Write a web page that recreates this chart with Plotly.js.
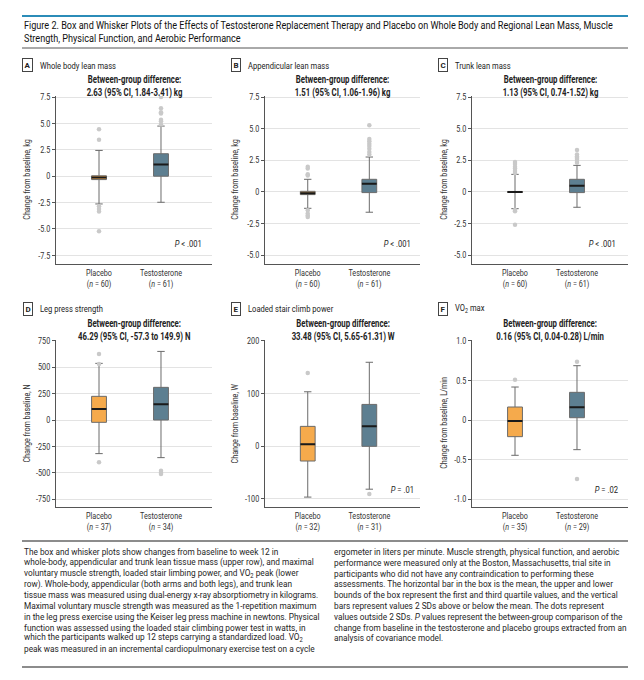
<!DOCTYPE html>
<html>
<head>
<meta charset="utf-8">
<script src="https://cdn.plot.ly/plotly-3.0.1.min.js"></script>
<style>html,body{margin:0;padding:0;background:#fff;}#chart{width:644px;height:680px;}</style>
</head>
<body>
<div id="chart"></div>
<script>
// ---------------- DATA ----------------
const groups = ["Placebo", "Testosterone"];

// Panel A: whole body lean mass (kg)  [placebo, testosterone]
const A_n = [60, 61];
const A_lower = [-2.63, -2.47];
const A_q1 = [-0.32, 0.0];
const A_mean = [-0.12, 1.12];
const A_q3 = [0.04, 2.13];
const A_upper = [2.44, 4.75];
const A_outPlacebo = [4.45, 3.45, -2.85, -3.1, -3.35, -5.22];
const A_outTesto = [7.5, 6.45, 6.05, 5.95, 5.35, 5.2, 4.9];

// Panel B: appendicular lean mass (kg)
const B_n = [60, 61];
const B_lower = [-1.29, -1.6];
const B_q1 = [-0.21, -0.05];
const B_mean = [-0.1, 0.65];
const B_q3 = [0.05, 1.0];
const B_upper = [1.0, 2.76];
const B_outPlacebo = [2.0, 1.85, 1.4, 1.3, -1.45, -1.7, -1.85, -1.97];
const B_outTesto = [5.26, 4.18, 4.0, 3.8, 3.63, 3.42, 3.16, 2.95];

// Panel C: trunk lean mass (kg)
const C_n = [60, 61];
const C_lower = [-1.32, -1.21];
const C_q1 = [-0.04, -0.05];
const C_mean = [0.0, 0.5];
const C_q3 = [0.04, 1.0];
const C_upper = [1.39, 2.1];
const C_outPlacebo = [2.37, 2.2, 2.0, 1.85, 1.66, 1.5, -1.42, -1.53, -2.58];
const C_outTesto = [3.32, 2.95, 2.8, 2.7, 2.6, 2.45, 2.3];

// Panel D: leg press strength (N)
const D_n = [37, 34];
const D_lower = [-318, -356];
const D_q1 = [-22, 0];
const D_mean = [104, 148];
const D_q3 = [224, 309];
const D_upper = [536, 649];
const D_outPlacebo = [624, 530, -400];
const D_outTesto = [-479, -498, -510];

// Panel E: loaded stair climb power (W)
const E_n = [32, 31];
const E_lower = [-97, -82];
const E_q1 = [-28.5, -0.6];
const E_mean = [3.2, 37.3];
const E_q3 = [37.3, 79];
const E_upper = [103, 159];
const E_outPlacebo = [138.6];
const E_outTesto = [-91];

// Panel F: VO2 max (L/min)
const F_n = [35, 29];
const F_lower = [-0.445, -0.374];
const F_q1 = [-0.21, 0.029];
const F_mean = [-0.013, 0.16];
const F_q3 = [0.164, 0.349];
const F_upper = [0.416, 0.685];
const F_outPlacebo = [0.508];
const F_outTesto = [0.735, -0.744];

// tick labels
const ticksA = [7.5, 5.0, 2.5, 0, -2.5, -5.0, -7.5];
const ticksA_text = ["7.5", "5.0", "2.5", "0", "-2.5", "-5.0", "-7.5"];
const ticksBC = [7.5, 5.0, 2.5, 0, -2.5, -5.0];
const ticksBC_text = ["7.5", "5.0", "2.5", "0", "-2.5", "-5.0"];
const ticksD = [750, 500, 250, 0, -250, -500, -750];
const ticksD_text = ["750", "500", "250", "0", "-250", "-500", "-750"];
const ticksE = [200, 100, 0, -100];
const ticksE_text = ["200", "100", "0", "-100"];
const ticksF = [1.0, 0.5, 0, -0.5, -1.0];
const ticksF_text = ["1.0", "0.5", "0", "-0.5", "-1.0"];

const panelLetters = ["A", "B", "C", "D", "E", "F"];
const panelTitles = ["Whole body lean mass", "Appendicular lean mass", "Trunk lean mass",
                     "Leg press strength", "Loaded stair climb power", "VO<sub>2</sub> max"];
const diffTexts = [
  "Between-group difference:<br>2.63 (95% CI, 1.84-3.41) kg",
  "Between-group difference:<br>1.51 (95% CI, 1.06-1.96) kg",
  "Between-group difference:<br>1.13 (95% CI, 0.74-1.52) kg",
  "Between-group difference:<br>46.29 (95% CI, -57.3 to 149.9) N",
  "Between-group difference:<br>33.48 (95% CI, 5.65-61.31) W",
  "Between-group difference:<br>0.16 (95% CI, 0.04-0.28) L/min"
];
const pTexts = ["<i>P</i> < .001", "<i>P</i> < .001", "<i>P</i> < .001", "", "<i>P</i> = .01", "<i>P</i> = .02"];
const yTitles = ["Change from baseline, kg", "Change from baseline, kg", "Change from baseline, kg",
                 "Change from baseline, N", "Change from baseline, W", "Change from baseline, L/min"];

const figTitleLines = [
  "Figure 2. Box and Whisker Plots of the Effects of Testosterone Replacement Therapy and Placebo on Whole Body and Regional Lean Mass, Muscle",
  "Strength, Physical Function, and Aerobic Performance"
];
const captionLeft = [
  "The box and whisker plots show changes from baseline to week 12 in",
  "whole-body, appendicular and trunk lean tissue mass (upper row), and maximal",
  "voluntary muscle strength, loaded stair limbing power, and VO<sub>2</sub> peak (lower",
  "row). Whole-body, appendicular (both arms and both legs), and trunk lean",
  "tissue mass was measured using dual-energy x-ray absorptiometry in kilograms.",
  "Maximal voluntary muscle strength was measured as the 1-repetition maximum",
  "in the leg press exercise using the Keiser leg press machine in newtons. Physical",
  "function was assessed using the loaded stair climbing power test in watts, in",
  "which the participants walked up 12 steps carrying a standardized load. VO<sub>2</sub>",
  "peak was measured in an incremental cardiopulmonary exercise test on a cycle"
];
const captionRight = [
  "ergometer in liters per minute. Muscle strength, physical function, and aerobic",
  "performance were measured only at the Boston, Massachusetts, trial site in",
  "participants who did not have any contraindication to performing these",
  "assessments. The horizontal bar in the box is the mean, the upper and lower",
  "bounds of the box represent the first and third quartile values, and the vertical",
  "bars represent values 2 SDs above or below the mean. The dots represent",
  "values outside 2 SDs. <i>P</i> values represent the between-group comparison of the",
  "change from baseline in the testosterone and placebo groups extracted from an",
  "analysis of covariance model."
];

// ---------------- STYLE / LAYOUT ----------------
const W = 644, H = 680;
const FONT = "Roboto, 'Liberation Sans', sans-serif";
const px = x => x / W;
const py = y => 1 - y / H;
const ORANGE = "#F5AA4C", BLUE = "#5D7F91", WHISK = "#6b6b6b", DOT = "#c9c9c9";
const S_CHART = 0.8; // horizontal condensing of chart texts

const panels = [
  {lo: A_lower, q1: A_q1, me: A_mean, q3: A_q3, hi: A_upper, op: A_outPlacebo, ot: A_outTesto, n: A_n, tv: ticksA, tt: ticksA_text, yr: [-8.32, 7.6]},
  {lo: B_lower, q1: B_q1, me: B_mean, q3: B_q3, hi: B_upper, op: B_outPlacebo, ot: B_outTesto, n: B_n, tv: ticksBC, tt: ticksBC_text, yr: [-5.69, 7.58]},
  {lo: C_lower, q1: C_q1, me: C_mean, q3: C_q3, hi: C_upper, op: C_outPlacebo, ot: C_outTesto, n: C_n, tv: ticksBC, tt: ticksBC_text, yr: [-5.69, 7.58]},
  {lo: D_lower, q1: D_q1, me: D_mean, q3: D_q3, hi: D_upper, op: D_outPlacebo, ot: D_outTesto, n: D_n, tv: ticksD, tt: ticksD_text, yr: [-823, 757]},
  {lo: E_lower, q1: E_q1, me: E_mean, q3: E_q3, hi: E_upper, op: E_outPlacebo, ot: E_outTesto, n: E_n, tv: ticksE, tt: ticksE_text, yr: [-115.8, 201.3]},
  {lo: F_lower, q1: F_q1, me: F_mean, q3: F_q3, hi: F_upper, op: F_outPlacebo, ot: F_outTesto, n: F_n, tv: ticksF, tt: ticksF_text, yr: [-1.097, 1.009]}
];

// pixel geometry
const colX = [[56, 212], [265, 420], [472, 628]];
const rowY = [[96, 264], [340, 507]];
const labelBoxX = [27.5, 235.5, 442.5];
const titleX = [38, 246, 453];
const yTitleX = [27, 235, 444];
const rowLabelY = [65, 309];
const pRight = [[204, 413, 618], [0, 416, 620]];
const pY = [243, 489];

const traces = [];
const annSqueeze = [];
const layout = {
  width: W, height: H,
  margin: {l: 0, r: 0, t: 0, b: 0},
  paper_bgcolor: "#fff", plot_bgcolor: "#fff",
  showlegend: false,
  boxmode: "overlay",
  font: {family: FONT, size: 9, color: "#333"},
  annotations: [], shapes: []
};
function addAnn(a, s) { layout.annotations.push(a); annSqueeze.push(s); }

panels.forEach((p, i) => {
  const r = Math.floor(i / 3), c = i % 3;
  const xa = "x" + (i + 1), ya = "y" + (i + 1);
  const xk = "xaxis" + (i === 0 ? "" : i + 1), yk = "yaxis" + (i === 0 ? "" : i + 1);
  layout[xk] = {
    domain: [px(colX[c][0]), px(colX[c][1])],
    anchor: ya, type: "category", range: [-0.694, 1.823],
    showline: true, linecolor: "#555", linewidth: 1, showgrid: false, zeroline: false,
    ticks: "", tickvals: groups,
    ticktext: groups.map((g, k) => g + "<br>(<i>n</i> = " + p.n[k] + ")"),
    tickfont: {family: FONT, size: 9, color: "#333"}, fixedrange: true
  };
  layout[yk] = {
    domain: [py(rowY[r][1]), py(rowY[r][0])],
    anchor: xa, range: p.yr,
    showline: true, linecolor: "#555", linewidth: 1,
    showgrid: true, gridcolor: "#e3e3e3", gridwidth: 1, zeroline: false,
    ticks: "outside", ticklen: 3, tickcolor: "#555",
    tickvals: p.tv, ticktext: p.tt,
    tickfont: {family: FONT, size: 9, color: "#333"}, fixedrange: true
  };
  const colors = [ORANGE, BLUE];
  groups.forEach((g, k) => {
    traces.push({
      type: "box", xaxis: xa, yaxis: ya, x: [g],
      q1: [p.q1[k]], median: [p.me[k]], q3: [p.q3[k]],
      lowerfence: [p.lo[k]], upperfence: [p.hi[k]],
      boxpoints: false, width: 0.24, whiskerwidth: 0.5,
      fillcolor: colors[k], line: {color: WHISK, width: 1}, hoverinfo: "skip"
    });
  });
  // mean bar (drawn as a flat box)
  traces.push({
    type: "box", xaxis: xa, yaxis: ya, x: groups,
    q1: p.me, median: p.me, q3: p.me, lowerfence: p.me, upperfence: p.me,
    boxpoints: false, width: 0.24, whiskerwidth: 0,
    fillcolor: "rgba(0,0,0,0)", line: {color: "#1a1a1a", width: 2}, hoverinfo: "skip"
  });
  // outlier dots
  traces.push({
    type: "scatter", mode: "markers", xaxis: xa, yaxis: ya,
    x: p.op.map(() => groups[0]).concat(p.ot.map(() => groups[1])),
    y: p.op.concat(p.ot),
    marker: {color: DOT, size: 4.5}, hoverinfo: "skip"
  });

  addAnn({
    xref: "paper", yref: "paper", x: px(labelBoxX[c]), y: py(rowLabelY[r]),
    xanchor: "center", yanchor: "middle", showarrow: false,
    text: "<b>" + panelLetters[i] + "</b>", font: {family: FONT, size: 8, color: "#222"},
    bordercolor: "#444", borderwidth: 1, borderpad: 1.5, bgcolor: "#fff"
  }, 1);
  addAnn({
    xref: "paper", yref: "paper", x: px(titleX[c]), y: py(rowLabelY[r]),
    xanchor: "left", align: "left", yanchor: "middle", showarrow: false,
    text: panelTitles[i], font: {family: FONT, size: 9.5, color: "#222"}
  }, S_CHART);
  addAnn({
    xref: "paper", yref: "paper", x: px((colX[c][0] + colX[c][1]) / 2), y: py(rowY[r][0] - 10),
    xanchor: "center", align: "center", yanchor: "middle", showarrow: false,
    text: "<b>" + diffTexts[i].replace("<br>", "</b><br><b>") + "</b>",
    font: {family: FONT, size: 10, color: "#222"}
  }, 0.78);
  addAnn({
    xref: "paper", yref: "paper", x: px(yTitleX[c]), y: py((rowY[r][0] + rowY[r][1]) / 2),
    xanchor: "center", align: "center", yanchor: "middle", showarrow: false, textangle: -90,
    text: yTitles[i], font: {family: FONT, size: 9, color: "#333"}
  }, S_CHART);
  if (pTexts[i]) {
    addAnn({
      xref: "paper", yref: "paper", x: px(pRight[r][c]), y: py(pY[r]),
      xanchor: "right", align: "right", yanchor: "middle", showarrow: false,
      text: pTexts[i], font: {family: FONT, size: 9.5, color: "#222"}
    }, S_CHART);
  }
});

// figure title
const titleIdx = layout.annotations.length;
figTitleLines.forEach((t, k) => addAnn({
  xref: "paper", yref: "paper", x: px(22), y: py(26 + 12 * k), xanchor: "left", align: "left", yanchor: "middle",
  showarrow: false, text: t, font: {family: FONT, size: 11, color: "#111"}
}, "title"));
// caption in two columns
const CAP_Y0 = 552, CAP_DY = 10.8;
const capLeftIdx = layout.annotations.length;
captionLeft.forEach((t, k) => addAnn({
  xref: "paper", yref: "paper", x: px(22), y: py(CAP_Y0 + CAP_DY * k), xanchor: "left", align: "left", yanchor: "middle",
  showarrow: false, text: t, font: {family: FONT, size: 9, color: "#1e1e1e"}
}, "cap"));
const capRightIdx = layout.annotations.length;
captionRight.forEach((t, k) => addAnn({
  xref: "paper", yref: "paper", x: px(332), y: py(CAP_Y0 + CAP_DY * k), xanchor: "left", align: "left", yanchor: "middle",
  showarrow: false, text: t, font: {family: FONT, size: 9, color: "#1e1e1e"}
}, "cap"));

layout.shapes.push(
  {type: "line", xref: "paper", yref: "paper", x0: px(22), x1: px(628), y0: py(16), y1: py(16), line: {color: "#2b8cb8", width: 2}},
  {type: "line", xref: "paper", yref: "paper", x0: px(22), x1: px(628), y0: py(48), y1: py(48), line: {color: "#555", width: 1}},
  {type: "line", xref: "paper", yref: "paper", x0: px(22), x1: px(628), y0: py(541), y1: py(541), line: {color: "#666", width: 1.5}},
  {type: "line", xref: "paper", yref: "paper", x0: px(22), x1: px(628), y0: py(667), y1: py(667), line: {color: "#666", width: 1.5}}
);

// horizontally condense a text element about its anchor point
function squeeze(el, s) {
  if (!el || !(s > 0) || s === 1) return;
  const bb = el.getBBox();
  const anchor = el.getAttribute("text-anchor") || getComputedStyle(el).textAnchor || "start";
  const ax = anchor === "end" ? bb.x + bb.width : anchor === "middle" ? bb.x + bb.width / 2 : bb.x;
  const t = el.getAttribute("transform") || "";
  el.setAttribute("transform", t + " translate(" + ax + ",0) scale(" + s + ",1) translate(" + (-ax) + ",0)");
}

Plotly.newPlot("chart", traces, layout, {displayModeBar: false, staticPlot: true}).then(gd => {
  const annText = idx => {
    const g = gd.querySelector('g.annotation[data-index="' + idx + '"]');
    return g ? g.querySelector("text") : null;
  };
  const w = idx => { const t = annText(idx); return t ? t.getBBox().width : 1; };
  const sTitle = Math.min(1, 590 / w(titleIdx));
  const sCap = Math.min(1, 296 / w(capLeftIdx + 6), 296 / w(capRightIdx + 4));
  annSqueeze.forEach((s, idx) => {
    const v = s === "title" ? sTitle : s === "cap" ? sCap : s;
    squeeze(annText(idx), v);
  });
  gd.querySelectorAll(".xaxislayer-above text, .yaxislayer-above text").forEach(t => squeeze(t, S_CHART));
});
</script>
</body>
</html>
